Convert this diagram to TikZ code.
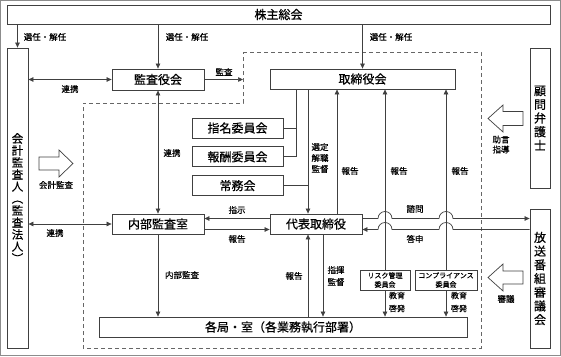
\documentclass[tikz,border=0pt]{standalone}
\usepackage{fontspec}
\setmainfont{Noto Sans CJK JP}[FakeBold=0.5]
\usepackage{tikz}
\usetikzlibrary{arrows.meta, positioning, calc}
\definecolor{linegray}{HTML}{404040}

\begin{document}
\begin{tikzpicture}[
  x=1pt, y=-1pt,
  block/.style={draw=linegray, line width=0.8pt, fill=white, inner sep=0pt, align=center, font=\fontsize{12}{13}\selectfont},
  vblock/.style={block, font=\fontsize{12}{13.7}\selectfont},
  small/.style={block, font=\fontsize{7}{9}\selectfont},
  arrow/.style={-{Triangle[length=5pt,width=4.5pt]}, draw=linegray, line width=0.7pt},
  twoway/.style={{Triangle[length=5pt,width=4.5pt]}-{Triangle[length=5pt,width=4.5pt]}, draw=linegray, line width=0.7pt},
  link/.style={draw=linegray, line width=0.7pt},
  note/.style={font=\fontsize{8.5}{10}\selectfont, align=center, inner sep=0pt},
  hollow/.style={draw=linegray, line width=0.7pt, fill=white},
]
  \useasboundingbox (0,0) rectangle (561,356);
  \draw[black!45, line width=0.8pt] (0.5,0.5) rectangle (560.5,355.5);
  \draw[black!60, line width=0.7pt, dash pattern=on 4pt off 3pt] (243,52) -- (481,52) -- (481,348) -- (83,348) -- (83,103) -- (243,103) -- cycle;

  \node[block, minimum width=543pt, minimum height=19pt] (agm) at (278.5,14.5) {株主総会};
  \node[block, minimum width=21pt, minimum height=300pt, font=\fontsize{11.5}{12}\selectfont] (auditor) at (17.5,198) {会\\計\\監\\査\\人\\︵\\監\\査\\法\\人\\︶};
  \node[block, minimum width=92pt, minimum height=21pt] (kansa) at (158,79.5) {監査役会};
  \node[block, minimum width=185pt, minimum height=20pt] (board) at (362.5,79) {取締役会};
  \node[vblock, minimum width=20pt, minimum height=140pt] (counsel) at (540,118) {顧\\問\\弁\\護\\士};
  \node[vblock, minimum width=20pt, minimum height=139pt] (council) at (540,278.5) {放\\送\\番\\組\\審\\議\\会};
  \node[block, minimum width=91pt, minimum height=20pt] (nomination) at (237.5,128) {指名委員会};
  \node[block, minimum width=91pt, minimum height=20pt, below=8pt of nomination] (remuneration) {報酬委員会};
  \node[block, minimum width=91pt, minimum height=20pt, below=8pt of remuneration] (executive) {常務会};
  \node[block, minimum width=92pt, minimum height=20pt] (office) at (158,224) {内部監査室};
  \node[block, minimum width=92pt, minimum height=20pt] (president) at (316,224) {代表取締役};
  \node[block, minimum width=368pt, minimum height=20pt] (divisions) at (283,327) {各局・室（各業務執行部署）};
  \node[small, minimum width=50pt, minimum height=20pt] (risk) at (385,280) {リスク管理\\委員会};
  \node[small, minimum width=62pt, minimum height=20pt] (compliance) at (446,280) {コンプライアンス\\委員会};

  \coordinate (dashnw) at (243,52);
  \coordinate (bracket) at (296,0);
  \coordinate (select) at (308,0);
  \coordinate (command) at (323,0);
  \coordinate (report) at (337,0);
  \coordinate (ask) at ([yshift=5.5pt]president.east);
  \coordinate (answer) at ([yshift=-5.5pt]president.east);

  % shareholders
  \draw[arrow] (agm.south -| auditor.north) -- (auditor.north);
  \draw[arrow] (agm.south -| kansa.north) -- (kansa.north);
  \draw[arrow] (agm.south -| board.north) -- (board.north);
  % audit
  \draw[twoway] (auditor.east |- kansa.west) -- (kansa.west);
  \draw[arrow] (kansa.east) -- (kansa.east -| dashnw);
  \draw[twoway] (kansa.south) -- (office.north);
  \draw[twoway] (auditor.east |- office.west) -- (office.west);
  \draw[arrow] (office.south) -- (office.south |- divisions.north);
  \draw[arrow] ([yshift=5.5pt]president.west) -- ([yshift=5.5pt]office.east);
  \draw[arrow] ([yshift=-5.5pt]office.east) -- ([yshift=-5.5pt]president.west);
  % board and committees
  \draw[link] (nomination.east) -- (nomination.east -| bracket);
  \draw[link] (board.south -| bracket) |- (remuneration.east);
  \draw[link] (executive.east) -- (executive.east -| select);
  \draw[arrow] (board.south -| select) -- (president.north -| select);
  \draw[arrow] (president.north -| report) -- (board.south -| report);
  \draw[arrow] (divisions.north -| select) -- (president.south -| select);
  \draw[arrow] (president.south -| command) -- (divisions.north -| command);
  \draw[arrow] (risk.north) -- (risk.north |- board.south);
  \draw[arrow] (risk.south) -- (risk.south |- divisions.north);
  \draw[arrow] (compliance.north) -- (compliance.north |- board.south);
  \draw[arrow] (compliance.south) -- (compliance.south |- divisions.north);
  % program council
  \draw[arrow] (ask) -- ($(ask -| risk)-(7pt,0)$) arc[start angle=180, end angle=0, radius=7pt]
    -- ($(ask -| compliance)-(7pt,0)$) arc[start angle=180, end angle=0, radius=7pt] -- (ask -| council.west);
  \draw[arrow] (answer -| council.west) -- ($(answer -| compliance)+(7pt,0)$) arc[start angle=0, end angle=180, radius=7pt]
    -- ($(answer -| risk)+(7pt,0)$) arc[start angle=0, end angle=180, radius=7pt] -- (answer);

  % hollow arrows
  \draw[hollow] (39,157) -- (59,157) -- (59,150) -- (73,163.5) -- (59,177) -- (59,170) -- (39,170) -- cycle;
  \draw[hollow] (523,111.5) -- (503,111.5) -- (503,105) -- (488,118.5) -- (503,132) -- (503,125.5) -- (523,125.5) -- cycle;
  \draw[hollow] (523,271) -- (503,271) -- (503,264) -- (488,277.5) -- (503,291) -- (503,284) -- (523,284) -- cycle;

  \node[note] (elect1) at (45,37) {選任・解任};
  \node[note] (elect2) at (187,37) {選任・解任};
  \node[note] (elect3) at (391,37) {選任・解任};
  \node[note] (liaison1) at (70,89) {連携};
  \node[note] (audit) at (224,72) {監査};
  \node[note] (liaison2) at (172,153) {連携};
  \node[note] (liaison3) at (55,233) {連携};
  \node[note] (accounting) at (56,185) {会計監査};
  \node[note] (advice) at (501,144.5) {助言\\指導};
  \node[note] (deliberation) at (506,299) {審議};
  \node[note, font=\fontsize{8.5}{11}\selectfont] (appoint) at (320,158) {選定\\解職\\監督};
  \node[note] (report1) at (350,171) {報告};
  \node[note] (report2) at (399,171) {報告};
  \node[note] (report3) at (460,171) {報告};
  \node[note] (order) at (237,210) {指示};
  \node[note] (report4) at (237,239) {報告};
  \node[note] (consult) at (415,209) {諮問};
  \node[note] (reply) at (415,239) {答申};
  \node[note] (internal) at (182,275) {内部監査};
  \node[note] (report5) at (294,276) {報告};
  \node[note, font=\fontsize{8.5}{12}\selectfont] (direct) at (336,276) {指揮\\監督};
  \node[note, font=\fontsize{8}{13}\selectfont] (educate1) at (397,302) {教育\\啓発};
  \node[note, font=\fontsize{8}{13}\selectfont] (educate2) at (459,302) {教育\\啓発};
\end{tikzpicture}
\end{document}
